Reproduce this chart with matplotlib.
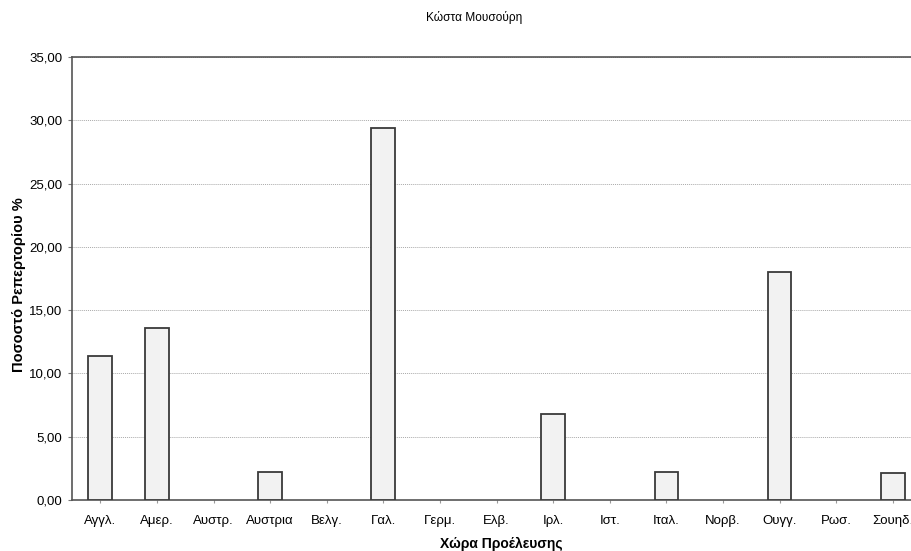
import numpy as np
import matplotlib.pyplot as plt
from matplotlib.ticker import FuncFormatter

plt.rcParams['font.family'] = ['Liberation Sans', 'DejaVu Sans']

# Country of origin (abbreviated) and share of repertoire (%)
countries = ['Αγγλ.', 'Αμερ.', 'Αυστρ.', 'Αυστρια', 'Βελγ.', 'Γαλ.', 'Γερμ.', 'Ελβ.',
             'Ιρλ.', 'Ιστ.', 'Ιταλ.', 'Νορβ.', 'Ουγγ.', 'Ρωσ.', 'Σουηδ.']
share = [11.4, 13.6, 0.0, 2.2, 0.0, 29.4, 0.0, 0.0,
         6.8, 0.0, 2.2, 0.0, 18.0, 0.0, 2.1]

fig = plt.figure(figsize=(9.12, 5.51), dpi=100)
# plot area runs past the right edge, like the scanned page
ax = fig.add_axes([0.079, 0.0926, 0.931, 0.804])

x = np.arange(len(countries))
share = np.array(share)
# empty categories get no outline
edges = ['#3a3a3a' if v > 0 else 'none' for v in share]
ax.bar(x, share, width=0.42, color='#f2f2f2', edgecolor=edges, linewidth=1.3, zorder=3)

ax.set_xlim(-0.5, len(countries) - 0.5)
ax.set_ylim(0, 35)
ax.set_yticks(np.arange(0, 36, 5))
ax.yaxis.set_major_formatter(FuncFormatter(lambda v, p: f'{v:.2f}'.replace('.', ',')))
ax.set_xticks(x)
ax.set_xticklabels(countries)

ax.grid(axis='y', color='#aaaaaa', linestyle=(0, (1, 1)), linewidth=0.7, zorder=0)
ax.tick_params(axis='y', labelsize=9.5, length=3, color='#777777', pad=4)
ax.tick_params(axis='x', labelsize=9.5, length=2, color='#999999', pad=9)

for side in ['left', 'top', 'bottom']:
    ax.spines[side].set_color('#555555')
    ax.spines[side].set_linewidth(1.2)
ax.spines['right'].set_visible(False)

fig.text(0.52, 0.968, 'Κώστα Μουσούρη', ha='center', va='center', fontsize=8.6)
fig.text(0.55, 0.013, 'Χώρα Προέλευσης', ha='center', va='center',
         fontsize=10, fontweight='bold')
fig.text(0.021, 0.483, 'Ποσοστό Ρεπερτορίου %', ha='center', va='center',
         rotation=90, fontsize=10.5, fontweight='bold')

fig.savefig('out.png', dpi=100)
